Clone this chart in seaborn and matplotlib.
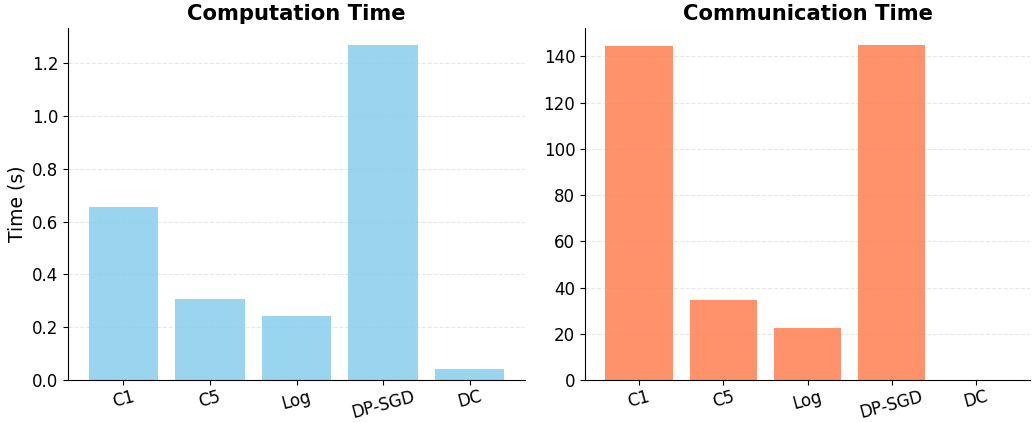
import matplotlib
matplotlib.use("Agg")
import matplotlib.pyplot as plt
import seaborn as sns
import pandas as pd

methods = ["C1", "C5", "Log", "DP-SGD", "DC"]
computation_time = [0.656, 0.307, 0.244, 1.271, 0.041]
communication_time = [144.6, 34.7, 22.3, 145.0, 0.0]

W, H = 1033, 423
bottom_px, top_px = 380, 28
fig = plt.figure(figsize=(W / 100, H / 100), dpi=100)
ax1 = fig.add_axes([68 / W, 1 - bottom_px / H, (525 - 68) / W, (bottom_px - top_px) / H])
ax2 = fig.add_axes([585 / W, 1 - bottom_px / H, (1030 - 585) / W, (bottom_px - top_px) / H])
axes = [ax1, ax2]

df1 = pd.DataFrame({"Method": methods, "Time": computation_time})
df2 = pd.DataFrame({"Method": methods, "Time": communication_time})

sns.barplot(data=df1, x="Method", y="Time", color="skyblue", alpha=0.85,
            saturation=1, linewidth=0, ax=ax1)
sns.barplot(data=df2, x="Method", y="Time", color="coral", alpha=0.85,
            saturation=1, linewidth=0, ax=ax2)

ax1.set_title("Computation Time", fontsize=15.2, fontweight="bold")
ax2.set_title("Communication Time", fontsize=15.2, fontweight="bold")
ax1.set_ylabel("Time (s)", fontsize=13.5)
ax2.set_ylabel("")
for ax in axes:
    ax.set_xlabel("")
    ax.set_xlim(-0.64, 4.64)
    ax.tick_params(axis="both", labelsize=12)
    ax.tick_params(axis="x", rotation=15, pad=2)
    ax.grid(axis="y", linestyle="--", alpha=0.3)
    ax.set_axisbelow(True)
    sns.despine(ax=ax)

fig.savefig("out.png", dpi=100)
